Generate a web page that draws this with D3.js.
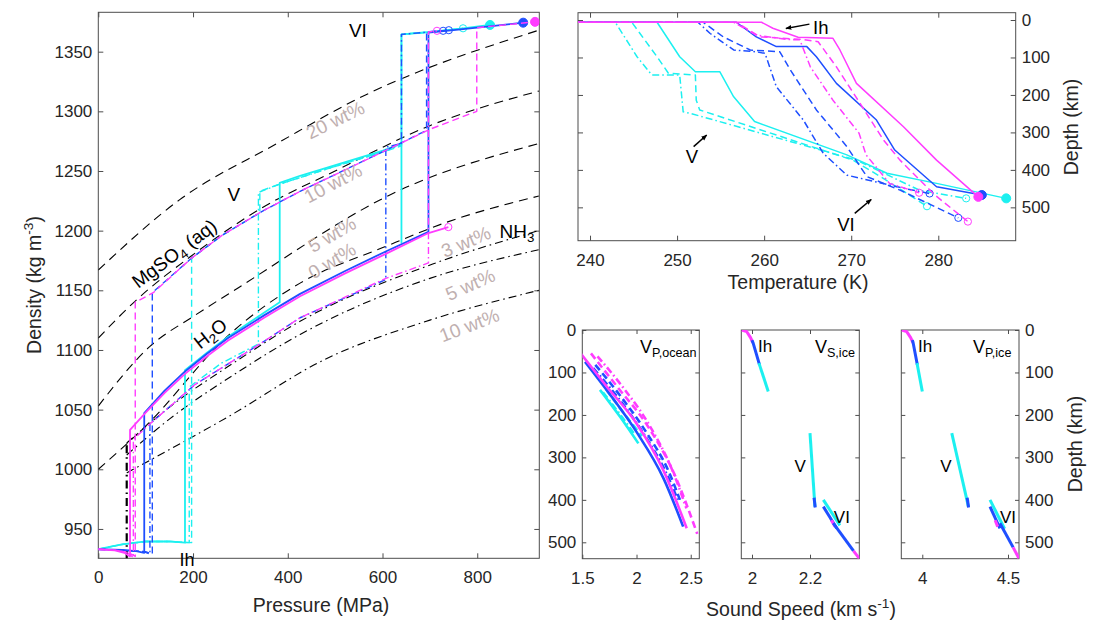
<!DOCTYPE html>
<html>
<head>
<meta charset="utf-8">
<title>Hydrosphere profiles</title>
<script src="https://cdn.jsdelivr.net/npm/d3@7"></script>
<style>
  body { margin: 0; background: #fff; }
  svg text { font-family: "Liberation Sans", Arial, Helvetica, sans-serif; }
</style>
</head>
<body>
<svg id="fig" width="1097" height="620"></svg>
<script>
// ---- ticks
var pressureTicks = [0, 200, 400, 600, 800];
var densityTicks = [950, 1000, 1050, 1100, 1150, 1200, 1250, 1300, 1350];
var tempTicks = [240, 250, 260, 270, 280];
var depthTicks = [0, 100, 200, 300, 400, 500];
var vpOceanTicks = [1.5, 2, 2.5];
var vsIceTicks = [2, 2.2];
var vpIceTicks = [4, 4.5];

// ---- left panel: reference curves [pressure MPa, density kg/m3]
var mgso4_20wt = [[0, 1167], [172, 1226], [377, 1273], [545, 1310], [930, 1368]];
var mgso4_10wt = [[0, 1110], [78, 1141], [197, 1179], [345, 1219], [500, 1250], [700, 1288], [930, 1317]];
var mgso4_5wt = [[0, 1053], [109, 1103], [204, 1129], [295, 1152], [637, 1234], [930, 1273]];
var mgso4_0wt = [[0, 1000], [102, 1037], [274, 1112], [426, 1156], [602, 1186], [735, 1207], [930, 1229]];
var nh3_3wt = [[60, 1022], [150, 1052], [289, 1090], [426, 1124], [706, 1172], [930, 1200]];
var nh3_5wt = [[60, 1012], [150, 1042], [289, 1080], [426, 1113], [700, 1160], [930, 1184]];
var nh3_10wt = [[60, 997], [274, 1044], [478, 1092], [700, 1125], [930, 1150]];
var nh3_onset = [[60, 925], [60, 1022]];

// ---- left panel: model profiles [pressure, density]
var magSolidPD = [[0, 933], [35, 932], [55, 930], [67, 927], [67, 1033], [99, 1047], [140, 1064], [183, 1080], [230, 1095], [274, 1108], [350, 1127], [426, 1145], [520, 1164], [609, 1181], [697, 1198], [739, 1203]];
var magDashPD = [[0, 933], [40, 932], [65, 930], [78, 927], [78, 1140], [116, 1148], [197, 1177], [261, 1196], [345, 1216], [426, 1233], [500, 1247], [600, 1266], [700, 1285], [799, 1300], [799, 1370], [860, 1372.5], [922, 1375]];
var magDotPD = [[0, 933], [40, 932], [62, 930], [74, 926], [74, 1025], [109, 1038], [204, 1071], [345, 1106], [426, 1127], [607, 1160], [697, 1173], [697, 1366.5], [715, 1367.5]];
var bluSolidPD = [[0, 933], [50, 932.5], [80, 931.5], [97, 930], [97, 1047], [140, 1066], [183, 1082], [230, 1097], [274, 1110], [350, 1129], [426, 1147], [520, 1166], [609, 1183], [697, 1199], [697, 1366], [760, 1368.5], [830, 1371.5], [897, 1374.3]];
var bluDashPD = [[0, 933], [60, 932], [100, 931], [114, 929], [114, 1148], [197, 1177], [261, 1196], [345, 1216], [426, 1233], [500, 1247], [600, 1266], [693, 1284], [693, 1366.5], [740, 1368]];
var bluDotPD = [[0, 933], [60, 932], [95, 931], [109, 929], [109, 1038], [204, 1071], [345, 1106], [426, 1127], [607, 1159], [607, 1270], [640, 1273], [640, 1364.5], [700, 1366.5], [728, 1367.5]];
var cyaSolidPD = [[0, 933], [50, 937], [100, 939.5], [150, 939.5], [183, 938.5], [183, 1083], [230, 1098], [274, 1111], [330, 1126], [383, 1140], [383, 1240], [426, 1246], [485, 1253], [601, 1267], [640, 1273], [640, 1190], [640, 1364.5], [700, 1366.5], [770, 1369.5], [827, 1372.4]];
var cyaDashPD = [[0, 933], [50, 937], [100, 939.5], [150, 939.5], [197, 938.5], [197, 1177], [261, 1196], [341, 1215], [341, 1233], [383, 1239], [485, 1252], [601, 1266], [640, 1271], [640, 1364.5], [700, 1366.5], [770, 1369.6]];
var cyaDotPD = [[0, 933], [50, 937], [100, 939.5], [150, 939.5], [192, 938.5], [192, 1069], [260, 1089], [338, 1105], [338, 1232], [383, 1239], [485, 1252], [601, 1266], [640, 1272], [640, 1364.5], [700, 1366.5], [760, 1369]];

// ---- top right: [temperature K, depth km]
var magSolidTD = [[238.6, 6], [259.7, 6], [261.0, 22], [263.9, 46], [267.9, 49], [268.7, 80], [270.6, 169], [276.0, 285], [279.8, 374], [284.6, 472]];
var magDashTD = [[238.6, 6], [256.8, 6], [259.5, 45], [264.5, 52], [266.2, 58], [268.3, 125], [271.0, 222], [273.7, 320], [275.6, 374], [279.6, 467], [283.4, 538]];
var magDotTD = [[238.6, 6], [256.5, 6], [259.1, 40], [262.6, 52], [264.1, 53], [265.3, 125], [267.9, 214], [270.9, 302], [271.7, 360], [274.4, 436], [277.8, 461]];
var bluSolidTD = [[238.6, 6], [256.8, 6], [259.1, 45], [261.4, 71], [264.9, 71], [266.0, 98], [268.3, 169], [272.9, 267], [275.0, 347], [279.8, 445], [285.0, 467]];
var bluDashTD = [[238.6, 6], [253.0, 6], [255.3, 45], [258.4, 80], [261.8, 85], [263.0, 133], [266.0, 240], [269.5, 338], [271.8, 418], [275.6, 454], [282.3, 528]];
var bluDotTD = [[238.6, 6], [252.4, 6], [253.8, 36], [256.5, 80], [259.1, 85], [260.1, 89], [261.4, 178], [264.5, 267], [266.8, 356], [269.5, 414], [276.0, 449], [279.0, 463]];
var cyaSolidTD = [[238.6, 6], [247.7, 6], [250.3, 98], [252.1, 138], [254.9, 138], [256.5, 205], [258.9, 271], [269.5, 360], [274.1, 409], [279.8, 436], [287.8, 476]];
var cyaDashTD = [[238.6, 6], [244.8, 6], [247.7, 98], [249.0, 142], [252.1, 147], [252.2, 214], [252.6, 240], [270.2, 374], [273.5, 420], [278.7, 497]];
var cyaDotTD = [[238.6, 6], [242.9, 6], [245.4, 98], [247.1, 147], [250.3, 147], [250.7, 245], [251.5, 249], [270.6, 374], [277.9, 455], [283.2, 476]];

// ---- bottom: ocean VP [km/s, depth km]
var vpOcMagSolid = [[1.485, 55], [1.725, 133], [2.0, 220], [2.247, 330], [2.463, 467]];
var vpOcMagDash = [[1.58, 55], [1.82, 133], [2.1, 225], [2.35, 340], [2.56, 480]];
var vpOcMagDot = [[1.64, 62], [1.86, 130], [2.12, 225], [2.33, 330], [2.46, 420]];
var vpOcBluSolid = [[1.525, 75], [1.75, 150], [2.0, 240], [2.25, 350], [2.43, 463]];
var vpOcBluDash = [[1.62, 82], [1.85, 155], [2.1, 245], [2.3, 335], [2.4, 400]];
var vpOcBluDot = [[1.60, 90], [1.83, 160], [2.08, 250], [2.28, 340], [2.38, 400]];
var vpOcCyaSolid = [[1.663, 141], [1.85, 205], [2.017, 267]];
var vpOcCyaDash = [[1.72, 140], [1.88, 195], [2.05, 250]];
var vpOcCyaDot = [[1.69, 147], [1.85, 200], [1.98, 245]];

// ---- bottom: ice VS
var vsIhMag = [[1.9645, 0], [1.982, 4], [1.995, 18], [2.003, 30]];
var vsIhBlu = [[2.0, 24], [2.004, 31], [2.026, 82]];
var vsIhCya = [[2.024, 78], [2.056, 145]];
var vsVCya = [[2.2, 243], [2.217, 416]];
var vsVBlu = [[2.214, 395], [2.218, 418]];
var vsVICya = [[2.246, 400], [2.303, 460]];
var vsVIBlu = [[2.246, 416], [2.292, 467]];
var vsVIMag = [[2.274, 448], [2.286, 463]];
var vsVITailBlu = [[2.28, 455], [2.35, 520]];
var vsVITailMag = [[2.35, 520], [2.37, 538]];

// ---- bottom: ice VP
var vpIhMag = [[3.880, 0], [3.909, 4], [3.932, 18], [3.946, 30]];
var vpIhBlu = [[3.942, 24], [3.947, 31], [3.971, 82]];
var vpIhCya = [[3.969, 78], [4.0, 145]];
var vpVCya = [[4.172, 243], [4.269, 416]];
var vpVBlu = [[4.262, 395], [4.270, 418]];
var vpVICya = [[4.395, 400], [4.48, 468]];
var vpVIBlu = [[4.395, 416], [4.453, 467]];
var vpVIMag = [[4.425, 448], [4.44, 463]];
var vpVITailBlu = [[4.453, 455], [4.53, 512]];
var vpVITailMag = [[4.53, 512], [4.564, 538]];

// ---------------------------------------------------------------
var MAG = '#ff3cff', BLU = '#1f4fff', CYA = '#1cf0f0';
var AXC = '#4d4d4d', TXT = '#262626', GRY = '#bfb0b0';
var DASHES = { solid: null, dash: '7,4', dot: '7,3,1.6,3', kdash: '9,6', kdot: '8,4,1.6,4' };

var svg = d3.select('#fig');
var defs = svg.append('defs');
var clipCount = 0;
var fmt = d3.format('');

defs.append('marker').attr('id', 'arr')
    .attr('viewBox', '0 0 10 10').attr('refX', 9).attr('refY', 5)
    .attr('markerWidth', 6).attr('markerHeight', 6).attr('markerUnits', 'userSpaceOnUse')
    .attr('orient', 'auto')
    .append('path').attr('d', 'M0,1L10,5L0,9z').attr('fill', '#000');

function makePanel(o) {
    var x = d3.scaleLinear().domain(o.xd).range([o.l, o.r]);
    var y = d3.scaleLinear().domain(o.yd).range(o.down ? [o.t, o.b] : [o.b, o.t]);
    var id = 'clip' + (clipCount++);
    defs.append('clipPath').attr('id', id).append('rect')
        .attr('x', o.l).attr('y', o.t).attr('width', o.r - o.l).attr('height', o.b - o.t);
    var tk = o.tick || 5;
    var ax = svg.append('g');
    ax.append('g').attr('transform', 'translate(0,' + o.b + ')')
        .call(d3.axisBottom(x).tickValues(o.xTicks).tickSizeInner(-tk).tickSizeOuter(0).tickPadding(13).tickFormat(fmt));
    ax.append('g').attr('transform', 'translate(0,' + o.t + ')')
        .call(d3.axisTop(x).tickValues(o.xTicks).tickSizeInner(-tk).tickSizeOuter(0).tickFormat(''));
    ax.append('g').attr('transform', 'translate(' + o.l + ',0)')
        .call(d3.axisLeft(y).tickValues(o.yTicks).tickSizeInner(-tk).tickSizeOuter(0).tickPadding(6)
            .tickFormat(o.yLab === 'left' ? fmt : ''));
    ax.append('g').attr('transform', 'translate(' + o.r + ',0)')
        .call(d3.axisRight(y).tickValues(o.yTicks).tickSizeInner(-tk).tickSizeOuter(0).tickPadding(6)
            .tickFormat(o.yLab === 'right' ? fmt : ''));
    ax.selectAll('g').attr('font-size', 17);
    ax.selectAll('.domain').remove();
    ax.selectAll('.tick line').attr('stroke', AXC);
    ax.selectAll('.tick text').attr('fill', TXT);
    ax.append('rect').attr('x', o.l).attr('y', o.t).attr('width', o.r - o.l).attr('height', o.b - o.t)
        .attr('fill', 'none').attr('stroke', AXC).attr('stroke-width', 1);
    var plot = svg.append('g').attr('clip-path', 'url(#' + id + ')');
    var over = svg.append('g');
    return { x: x, y: y, plot: plot, over: over };
}

function drawLine(p, data, color, style, width, smooth) {
    var line = d3.line().x(function(d) { return p.x(d[0]); }).y(function(d) { return p.y(d[1]); });
    if (smooth) line.curve(d3.curveMonotoneX);
    p.plot.append('path').datum(data).attr('d', line)
        .attr('fill', 'none').attr('stroke', color).attr('stroke-width', width || 1.5)
        .attr('stroke-dasharray', DASHES[style]).attr('stroke-linejoin', 'round');
}

function drawEnd(p, data, color, kind) {
    if (!kind) return;
    var d = data[data.length - 1];
    p.plot.append('circle').attr('cx', p.x(d[0])).attr('cy', p.y(d[1]))
        .attr('r', kind === 'filled' ? 4.5 : 3.6)
        .attr('fill', kind === 'filled' ? color : 'none')
        .attr('stroke', color).attr('stroke-width', 1);
}

// text with sub/superscripts: parts = [[text, 0 normal | 1 sub | 2 sup], ...]
function rich(sel, parts, size) {
    var shift = 0;
    parts.forEach(function(pt) {
        var target = pt[1] === 1 ? size * 0.32 : pt[1] === 2 ? -size * 0.42 : 0;
        sel.append('tspan').attr('dy', target - shift)
            .attr('font-size', pt[1] ? size * 0.7 : size).text(pt[0]);
        shift = target;
    });
    return sel;
}

function label(p, at, parts, size, color, angle, anchor) {
    var t = p.over.append('text')
        .attr('transform', 'translate(' + p.x(at[0]) + ',' + p.y(at[1]) + ') rotate(' + (angle || 0) + ')')
        .attr('text-anchor', anchor || 'middle').attr('dominant-baseline', 'central')
        .attr('fill', color || '#000');
    return rich(t, parts, size);
}

function arrow(p, from, to) {
    p.over.append('line')
        .attr('x1', p.x(from[0])).attr('y1', p.y(from[1]))
        .attr('x2', p.x(to[0])).attr('y2', p.y(to[1]))
        .attr('stroke', '#000').attr('stroke-width', 1.5).attr('marker-end', 'url(#arr)');
}

// ---------------------------------------------------------------
// panels
var left = makePanel({ l: 98.3, r: 539.3, t: 12.3, b: 558.3, xd: [0, 931], yd: [925.4, 1383],
    xTicks: pressureTicks, yTicks: densityTicks, yLab: 'left' });
var tr = makePanel({ l: 578, r: 1015.7, t: 12.7, b: 240.7, xd: [238.62, 288.89], yd: [-19.5, 589], down: true,
    xTicks: tempTicks, yTicks: depthTicks, yLab: 'right' });
var b1 = makePanel({ l: 582.3, r: 699.3, t: 330, b: 558.7, xd: [1.5, 2.579], yd: [0, 538.6], down: true,
    xTicks: vpOceanTicks, yTicks: depthTicks, yLab: 'left', tick: 4 });
var b2 = makePanel({ l: 741.3, r: 859.3, t: 330, b: 558.7, xd: [1.9631, 2.37], yd: [0, 538.6], down: true,
    xTicks: vsIceTicks, yTicks: depthTicks, yLab: null, tick: 4 });
var b3 = makePanel({ l: 901.3, r: 1019, t: 330, b: 558.7, xd: [3.8775, 4.5642], yd: [0, 538.6], down: true,
    xTicks: vpIceTicks, yTicks: depthTicks, yLab: 'right', tick: 4 });

// ---- left panel
[mgso4_20wt, mgso4_10wt, mgso4_5wt, mgso4_0wt].forEach(function(c) { drawLine(left, c, '#000', 'kdash', 1.1, true); });
[nh3_3wt, nh3_5wt, nh3_10wt].forEach(function(c) { drawLine(left, c, '#000', 'kdot', 1.1, true); });
drawLine(left, nh3_onset, '#000', 'kdot', 2.2);

var leftSeries = [
    [cyaDotPD, CYA, 'dot', null], [cyaDashPD, CYA, 'dash', 'open'], [cyaSolidPD, CYA, 'solid', 'filled'],
    [bluDotPD, BLU, 'dot', 'open'], [bluDashPD, BLU, 'dash', 'open'], [bluSolidPD, BLU, 'solid', 'filled'],
    [magDotPD, MAG, 'dot', 'open'], [magDashPD, MAG, 'dash', 'filled'], [magSolidPD, MAG, 'solid', 'open']
];
leftSeries.forEach(function(s) {
    drawLine(left, s[0], s[1], s[2], s[2] === 'solid' ? 1.8 : 1.4);
    drawEnd(left, s[0], s[1], s[3]);
});

label(left, [548, 1368], [['VI', 0]], 19);
label(left, [286, 1231], [['V', 0]], 19);
label(left, [187, 923.8], [['Ih', 0]], 18);
label(left, [160, 1181], [['MgSO', 0], ['4', 1], [' (aq)', 0]], 19, '#000', -37);
label(left, [236, 1114], [['H', 0], ['2', 1], ['O', 0]], 19, '#000', -38);
label(left, [500, 1293], [['20 wt%', 0]], 19, GRY, -26);
label(left, [495, 1240], [['10 wt%', 0]], 19, GRY, -28);
label(left, [493, 1197], [['5 wt%', 0]], 19, GRY, -30);
label(left, [493, 1175], [['0 wt%', 0]], 19, GRY, -31);
label(left, [776, 1191], [['3 wt%', 0]], 19, GRY, -23);
label(left, [884, 1199.5], [['NH', 0], ['3', 1]], 19, '#000', 0);
label(left, [785, 1155], [['5 wt%', 0]], 19, GRY, -24);
label(left, [783, 1121], [['10 wt%', 0]], 19, GRY, -21);

svg.append('text').attr('x', 321).attr('y', 611.5).attr('text-anchor', 'middle')
    .attr('font-size', 19.5).attr('fill', TXT).text('Pressure (MPa)');
rich(svg.append('text').attr('transform', 'translate(41,285) rotate(-90)').attr('text-anchor', 'middle')
    .attr('fill', TXT), [['Density (kg m', 0], ['-3', 2], [')', 0]], 19.5);

// ---- top right panel
var trSeries = [
    [cyaDotTD, CYA, 'dot', 'open'], [cyaDashTD, CYA, 'dash', 'open'], [cyaSolidTD, CYA, 'solid', 'filled'],
    [bluDotTD, BLU, 'dot', 'open'], [bluDashTD, BLU, 'dash', 'open'], [bluSolidTD, BLU, 'solid', 'filled'],
    [magDotTD, MAG, 'dot', 'open'], [magDashTD, MAG, 'dash', 'open'], [magSolidTD, MAG, 'solid', 'filled']
];
trSeries.forEach(function(s) {
    drawLine(tr, s[0], s[1], s[2], 1.5);
    drawEnd(tr, s[0], s[1], s[3]);
});
label(tr, [266.5, 18], [['Ih', 0]], 18.5);
arrow(tr, [265.2, 11], [262.5, 22.5]);
label(tr, [251.7, 362], [['V', 0]], 18.5);
arrow(tr, [251.9, 338], [253.4, 307]);
label(tr, [269.4, 544], [['VI', 0]], 18.5);
arrow(tr, [270.4, 516], [272.3, 479]);

svg.append('text').attr('x', 798).attr('y', 289).attr('text-anchor', 'middle')
    .attr('font-size', 19.5).attr('fill', TXT).text('Temperature (K)');
svg.append('text').attr('transform', 'translate(1078,127) rotate(-90)').attr('text-anchor', 'middle')
    .attr('font-size', 19.5).attr('fill', TXT).text('Depth (km)');

// ---- bottom panels
var b1Series = [
    [vpOcCyaDot, CYA, 'dot'], [vpOcCyaDash, CYA, 'dash'], [vpOcCyaSolid, CYA, 'solid'],
    [vpOcBluDot, BLU, 'dot'], [vpOcBluDash, BLU, 'dash'], [vpOcBluSolid, BLU, 'solid'],
    [vpOcMagDot, MAG, 'dot'], [vpOcMagDash, MAG, 'dash'], [vpOcMagSolid, MAG, 'solid']
];
b1Series.forEach(function(s) { drawLine(b1, s[0], s[1], s[2], 2.6, true); });
label(b1, [2.032, 40], [['V', 0], ['P,ocean', 1]], 18, '#000', 0, 'start');

[[vsIhMag, MAG], [vsIhBlu, BLU], [vsIhCya, CYA], [vsVCya, CYA], [vsVBlu, BLU],
 [vsVICya, CYA], [vsVIBlu, BLU], [vsVIMag, MAG], [vsVITailBlu, BLU], [vsVITailMag, MAG]]
    .forEach(function(s) { drawLine(b2, s[0], s[1], 'solid', 3); });
label(b2, [2.217, 40], [['V', 0], ['S,ice', 1]], 18, '#000', 0, 'start');
label(b2, [2.045, 37], [['Ih', 0]], 17);
label(b2, [2.166, 320], [['V', 0]], 17);
label(b2, [2.31, 440], [['VI', 0]], 17);

[[vpIhMag, MAG], [vpIhBlu, BLU], [vpIhCya, CYA], [vpVCya, CYA], [vpVBlu, BLU],
 [vpVICya, CYA], [vpVIBlu, BLU], [vpVIMag, MAG], [vpVITailBlu, BLU], [vpVITailMag, MAG]]
    .forEach(function(s) { drawLine(b3, s[0], s[1], 'solid', 3); });
label(b3, [4.296, 40], [['V', 0], ['P,ice', 1]], 18, '#000', 0, 'start');
label(b3, [4.016, 37], [['Ih', 0]], 17);
label(b3, [4.138, 320], [['V', 0]], 17);
label(b3, [4.5, 440], [['VI', 0]], 17);

rich(svg.append('text').attr('x', 801).attr('y', 616).attr('text-anchor', 'middle').attr('fill', TXT),
    [['Sound Speed (km s', 0], ['-1', 2], [')', 0]], 19.5);
svg.append('text').attr('transform', 'translate(1082,444) rotate(-90)').attr('text-anchor', 'middle')
    .attr('font-size', 19.5).attr('fill', TXT).text('Depth (km)');
</script>
</body>
</html>
